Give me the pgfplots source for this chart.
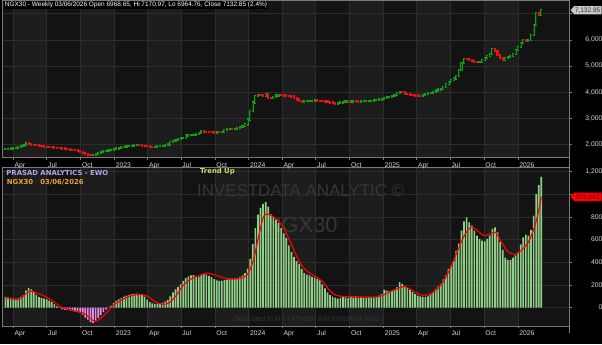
\documentclass[border=0pt]{standalone}
\usepackage{fontspec}
\setmainfont{Liberation Sans}
\newfontfamily\dejavu{DejaVu Sans}
\usepackage{pgfplots}
\usepackage{pgfplotstable}
\pgfplotsset{compat=1.18}
\definecolor{bgA}{HTML}{131313}
\definecolor{bgB}{HTML}{1D1D1D}
\definecolor{gridc}{HTML}{2C2C2C}
\definecolor{axisc}{HTML}{7A7A7A}
\definecolor{tickc}{HTML}{D8D8D8}
\definecolor{upc}{HTML}{129E12}
\definecolor{upin}{HTML}{0B3A0B}
\definecolor{downc}{HTML}{EE1010}
\definecolor{posbar}{HTML}{8FCF87}
\definecolor{negbar}{HTML}{E48EE4}
\definecolor{lav}{HTML}{A9A9E6}
\definecolor{orng}{HTML}{E8A13A}
\definecolor{yg}{HTML}{C6E46A}
\definecolor{wm}{HTML}{363636}
\definecolor{tagg}{HTML}{C8C8C8}
\definecolor{tagtxt}{HTML}{5A0000}

\pgfplotstableread{
i o c
0 1805 1815
1 1815 1825
2 1825 1840
3 1840 1860
4 1860 1875
5 1875 1900
6 1900 1935
7 1935 1990
8 1990 2040
9 2040 2010
10 2010 1990
11 1990 1970
12 1970 1965
13 1965 1950
14 1950 1935
15 1935 1915
16 1915 1910
17 1910 1900
18 1900 1885
19 1885 1875
20 1875 1865
21 1865 1850
22 1850 1840
23 1840 1830
24 1830 1815
25 1815 1800
26 1800 1790
27 1790 1770
28 1770 1745
29 1745 1700
30 1700 1670
31 1670 1630
32 1630 1595
33 1595 1590
34 1590 1605
35 1605 1620
36 1620 1675
37 1675 1700
38 1700 1730
39 1730 1755
40 1755 1775
41 1775 1800
42 1800 1825
43 1825 1840
44 1840 1860
45 1860 1885
46 1885 1905
47 1905 1920
48 1920 1935
49 1935 1950
50 1950 1970
51 1970 1975
52 1975 1960
53 1960 1945
54 1945 1935
55 1935 1925
56 1925 1915
57 1915 1910
58 1910 1912
59 1912 1925
60 1925 1935
61 1935 1945
62 1945 1960
63 1960 1995
64 1995 2080
65 2080 2145
66 2145 2175
67 2175 2200
68 2200 2230
69 2230 2260
70 2260 2340
71 2340 2350
72 2350 2365
73 2365 2370
74 2370 2385
75 2385 2450
76 2450 2495
77 2495 2480
78 2480 2470
79 2470 2465
80 2465 2455
81 2455 2450
82 2450 2462
83 2462 2458
84 2458 2470
85 2470 2545
86 2545 2570
87 2570 2575
88 2575 2570
89 2570 2580
90 2580 2610
91 2610 2650
92 2650 2700
93 2700 2760
94 2760 2950
95 2950 3260
96 3260 3600
97 3600 3850
98 3850 3900
99 3900 3880
100 3880 3860
101 3860 3940
102 3940 3790
103 3790 3760
104 3760 3820
105 3820 3870
106 3870 3890
107 3890 3885
108 3885 3870
109 3870 3860
110 3860 3840
111 3840 3830
112 3830 3770
113 3770 3715
114 3715 3660
115 3660 3640
116 3640 3645
117 3645 3655
118 3655 3660
119 3660 3670
120 3670 3680
121 3680 3675
122 3675 3665
123 3665 3655
124 3655 3640
125 3640 3620
126 3620 3600
127 3600 3575
128 3575 3560
129 3560 3575
130 3575 3600
131 3600 3620
132 3620 3640
133 3640 3635
134 3635 3640
135 3640 3650
136 3650 3645
137 3645 3640
138 3640 3645
139 3645 3655
140 3655 3660
141 3660 3665
142 3665 3670
143 3670 3685
144 3685 3700
145 3700 3715
146 3715 3740
147 3740 3780
148 3780 3800
149 3800 3825
150 3825 3850
151 3850 3880
152 3880 3950
153 3950 4000
154 4000 3990
155 3990 3940
156 3940 3910
157 3910 3890
158 3890 3875
159 3875 3870
160 3870 3860
161 3860 3850
162 3850 3880
163 3880 3920
164 3920 3950
165 3950 3980
166 3980 4020
167 4020 4060
168 4060 4100
169 4100 4130
170 4130 4200
171 4200 4300
172 4300 4380
173 4380 4450
174 4450 4520
175 4520 4600
176 4600 4855
177 4855 5100
178 5100 5275
179 5275 5250
180 5250 5215
181 5215 5180
182 5180 5165
183 5165 5155
184 5155 5160
185 5160 5240
186 5240 5300
187 5300 5380
188 5380 5470
189 5470 5660
190 5660 5580
191 5580 5430
192 5430 5320
193 5320 5240
194 5240 5300
195 5300 5350
196 5350 5390
197 5390 5460
198 5460 5600
199 5600 5720
200 5720 5890
201 5890 6010
202 6010 5975
203 5975 6000
204 6000 6190
205 6190 6570
206 6570 7020
207 7020 6969
208 6968.65 7132.85
}\price

\pgfplotstableread{
i v
0 94
1 90
2 85
3 80
4 78
5 82
6 95
7 110
8 150
9 172
10 160
11 140
12 112
13 92
14 85
15 79
16 72
17 62
18 48
19 30
20 12
21 -3
22 -15
23 -20
24 -23
25 -25
26 -28
27 -35
28 -40
29 -47
30 -62
31 -88
32 -105
33 -125
34 -135
35 -115
36 -90
37 -65
38 -40
39 -15
40 0
41 15
42 40
43 60
44 72
45 85
46 97
47 106
48 112
49 118
50 122
51 124
52 120
53 115
54 96
55 70
56 48
57 38
58 34
59 35
60 38
61 44
62 52
63 68
64 100
65 135
66 160
67 180
68 205
69 235
70 260
71 275
72 284
73 286
74 275
75 272
76 292
77 298
78 290
79 280
80 268
81 252
82 240
83 235
84 236
85 243
86 248
87 255
88 256
89 254
90 258
91 270
92 282
93 305
94 345
95 430
96 560
97 700
98 820
99 880
100 915
101 930
102 890
103 825
104 800
105 775
106 745
107 700
108 655
109 615
110 550
111 490
112 445
113 410
114 385
115 340
116 305
117 292
118 284
119 272
120 265
121 255
122 240
123 205
124 170
125 135
126 110
127 98
128 88
129 80
130 86
131 94
132 90
133 85
134 92
135 88
136 94
137 86
138 90
139 88
140 84
141 92
142 88
143 90
144 95
145 105
146 120
147 158
148 150
149 143
150 150
151 162
152 178
153 225
154 210
155 192
156 175
157 160
158 140
159 118
160 106
161 99
162 95
163 94
164 100
165 117
166 138
167 165
168 185
169 210
170 250
171 285
172 340
173 370
174 410
175 500
176 565
177 680
178 760
179 796
180 752
181 723
182 680
183 635
184 606
185 591
186 585
187 606
188 635
189 694
190 708
191 664
192 577
193 510
194 440
195 422
196 422
197 440
198 460
199 489
200 557
201 620
202 644
203 635
204 685
205 811
206 1001
207 1080
208 1153
}\ewo

\pgfplotstableread{
i s
0 88
3 75
5 72
6.7 92
8 125
10 146
12.5 125
14.6 108
18 64
22 0
26 -23
30 -47
32.7 -88
34.4 -120
36.3 -105
38.9 -53
41.5 12
45.3 70
49.2 108
53 117
55.6 94
58.2 50
60.8 29
63.4 41
65.9 94
68.5 181
71.1 240
73.7 270
76.2 290
78.2 304
82 284
85.9 255
89.8 255
93.6 284
96.2 415
98.2 620
100.1 796
102 825
105.2 781
107.8 708
110.4 591
112.9 460
115.5 357
118.1 304
120.7 270
123.3 225
125.8 152
128.4 108
131 99
133.6 99
138.7 94
143.9 94
146.4 108
149 138
151.5 160
154.8 187
157.4 158
160 123
162.5 108
165.1 123
167.7 167
170.3 240
172.8 357
175.5 503
178.1 635
180.7 708
183.2 679
185.7 635
188.3 650
190.2 664
192.2 591
194.8 498
197.4 469
199.9 498
202.5 562
204.4 650
206.4 796
208 976.843
}\sig

% lighter quarter bands (Q2 and Q4), drawn on the background layer
\newcommand\bandplot[4]{%
  \addplot[on layer=axis background, fill=bgB, draw=none]
    coordinates {(#1,#3) (#2,#3) (#2,#4) (#1,#4)} -- cycle;}
\newcommand\bands[2]{%
  \bandplot{3}{16}{#1}{#2}
  \bandplot{29.14}{42.29}{#1}{#2}
  \bandplot{55.14}{68.14}{#1}{#2}
  \bandplot{81.29}{94.43}{#1}{#2}
  \bandplot{107.43}{120.43}{#1}{#2}
  \bandplot{133.57}{146.71}{#1}{#2}
  \bandplot{159.57}{172.57}{#1}{#2}
  \bandplot{185.71}{198.86}{#1}{#2}}

\pgfplotsset{
  panel/.style={
    scale only axis, width=569pt,
    xmin=-1.04, xmax=218.8,
    set layers,
    axis background/.style={fill=bgA},
    axis line style={draw=axisc, line width=0.6pt},
    grid=major, grid style={draw=gridc, line width=0.5pt},
    extra tick style={grid=major},
    xtick={3.0,16.0,29.14,42.29,55.14,68.14,81.29,94.43,107.43,120.43,133.57,146.71,159.57,172.57,185.71,198.86},
    xticklabels={Apr,Jul,Oct,2023,Apr,Jul,Oct,2024,Apr,Jul,Oct,2025,Apr,Jul,Oct,2026},
    xticklabel style={anchor=base west, inner sep=0pt, xshift=1.3pt, yshift=-7pt,
      font=\fontsize{6.8}{7}\selectfont, text=tickc},
    yticklabel pos=right,
    yticklabel style={anchor=east, inner sep=0pt, xshift=31pt,
      font=\fontsize{6.8}{7}\selectfont, text=tickc},
    xtick pos=left, ytick pos=right,
    tick align=outside, major tick length=2.5pt,
    tick style={draw=axisc, line width=0.5pt},
    scaled y ticks=false,
    /pgf/number format/1000 sep={,},
    /pgf/number format/assume math mode=true,
  },
}

\begin{document}
\pagecolor{black}
\begin{tikzpicture}

% ---------- price panel ----------
\begin{axis}[panel, at={(0pt,-0.5pt)}, anchor=north west, height=158pt,
  ymin=1486, ymax=7505, ytick={2000,3000,4000,5000,6000},
  extra y ticks={7000}, extra y tick labels={}]
\bands{1486}{7505}
% up candles: green body (open to close), dark interior
\addplot[upc, line width=2.1pt, line cap=rect,
  quiver={u=0, v=\thisrow{c}-\thisrow{o}},
  restrict expr to domain={\thisrow{c}-\thisrow{o}}{0:100000}]
  table[x=i, y=o] {\price};
\addplot[upin, line width=0.6pt, line cap=butt,
  quiver={u=0, v=\thisrow{c}-\thisrow{o}},
  restrict expr to domain={\thisrow{c}-\thisrow{o}}{60:100000}]
  table[x=i, y=o] {\price};
% down candles: filled red body
\addplot[downc, line width=2.1pt, line cap=rect,
  quiver={u=0, v=\thisrow{c}-\thisrow{o}},
  restrict expr to domain={\thisrow{c}-\thisrow{o}}{-100000:-0.001}]
  table[x=i, y=o] {\price};
\coordinate (tp) at (axis cs:208,7132.85);
\end{axis}

% ---------- EWO panel ----------
\begin{axis}[panel, at={(0pt,-168pt)}, anchor=north west, height=159.5pt,
  ymin=-162, ymax=1238, ytick={0,200,400,600,800,1200},
  extra y ticks={1000}, extra y tick labels={}]
\bands{-162}{1238}
\node[anchor=west, text=wm, inner sep=0pt, font=\fontsize{17}{17}\selectfont]
  at (axis cs:74.3,1027) {INVESTDATA ANALYTIC ©};
\node[anchor=center, text=wm, inner sep=0pt, font=\fontsize{22}{22}\selectfont]
  at (axis cs:115,729) {NGX30};
\node[anchor=west, text=wm, inner sep=0pt, font=\fontsize{7}{7}\selectfont]
  at (axis cs:88.6,-97) {Dedicated to MY FATHER\ \ BALKRISHNA RAO};
\addplot[ybar, bar width=1.7pt, bar shift=0pt, fill=posbar, draw=none,
  restrict y to domain=0:5000] table[x=i, y=v] {\ewo};
\addplot[ybar, bar width=1.7pt, bar shift=0pt, fill=negbar, draw=none,
  restrict y to domain=-5000:0] table[x=i, y=v] {\ewo};
\addplot[red, line width=1.2pt, smooth] table[x=i, y=s] {\sig};
\coordinate (ep) at (axis cs:208,976.843);
\end{axis}

% right axis line through strips
\draw[axisc, line width=0.6pt] (569pt,0pt) -- (569pt,-335pt);

% value tags
\coordinate (xr) at (569pt,0pt);
\fill[tagg] (tp -| xr) ++(1.5pt,0pt) -- ++(3.5pt,4.2pt) -- ++(27.5pt,0pt) -- ++(0pt,-8.4pt) -- ++(-27.5pt,0pt) -- cycle;
\node[text=black!80, inner sep=0pt, font=\fontsize{6.6}{7}\selectfont] at ([xshift=18.5pt]tp -| xr) {7,132.85};
\fill[red] (ep -| xr) ++(1.5pt,0pt) -- ++(3.5pt,4.2pt) -- ++(27.5pt,0pt) -- ++(0pt,-8.4pt) -- ++(-27.5pt,0pt) -- cycle;
\node[text=tagtxt, inner sep=0pt, font=\fontsize{6.6}{7}\selectfont] at ([xshift=18.5pt]ep -| xr) {976.843};

% titles
\node[anchor=west, fill=black, inner sep=1pt, text=white, font=\fontsize{6.5}{7}\selectfont]
  at (1pt,-5pt) {NGX30 - Weekly 03/06/2026 Open 6968.65, Hi 7170.97, Lo 6964.76, Close 7132.85 (2.4\%)};
\node[anchor=west, inner sep=0pt, text=lav, font=\dejavu\bfseries\fontsize{6.9}{7}\selectfont]
  at (3.5pt,-173.3pt) {PRASAD ANALYTICS - EWO};
\node[anchor=west, inner sep=0pt, text=orng, font=\dejavu\bfseries\fontsize{6.9}{7}\selectfont]
  at (4pt,-183.3pt) {NGX30\ \ \ 03/06/2026};
\node[anchor=west, inner sep=0pt, text=yg, font=\dejavu\bfseries\fontsize{6.9}{7}\selectfont]
  at (198pt,-172.5pt) {Trend Up};

\pgfresetboundingbox
\useasboundingbox (0pt,0pt) rectangle (602pt,-346pt);
\end{tikzpicture}
\end{document}
